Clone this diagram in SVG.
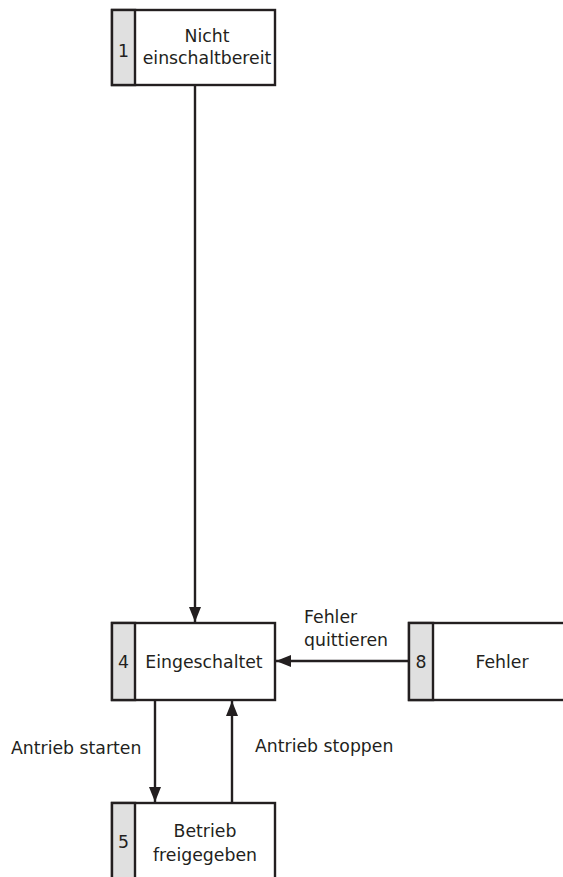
<svg xmlns="http://www.w3.org/2000/svg" width="563" height="877" viewBox="0 0 563 877">
<style>
.box{fill:#fff;stroke:#231f20;stroke-width:2.4}
.num{fill:#e0e0e0;stroke:#231f20;stroke-width:2.4}
.t{font-family:"DejaVu Sans",Verdana,sans-serif;font-size:17.3px;fill:#231f20}
.c{text-anchor:middle}
.ln{stroke:#231f20;stroke-width:2.4;fill:none;marker-end:url(#ah)}
</style>
<defs>
<marker id="ah" markerUnits="userSpaceOnUse" markerWidth="16" markerHeight="16" viewBox="0 0 16 16" refX="15" refY="8" orient="auto">
<path d="M0,2 L15,8 L0,14 Z" fill="#231f20"/>
</marker>
</defs>
<rect width="563" height="877" fill="#fff"/>
<g id="connectors">
<line class="ln" x1="195" y1="86" x2="195" y2="622"/>
<line class="ln" x1="408" y1="661" x2="276" y2="661"/>
<line class="ln" x1="155" y1="701" x2="155" y2="802"/>
<line class="ln" x1="232" y1="802" x2="232" y2="701"/>
<text class="t" x="304" y="623">Fehler</text>
<text class="t" x="304" y="646">quittieren</text>
<text class="t" x="11" y="754">Antrieb starten</text>
<text class="t" x="255" y="752">Antrieb stoppen</text>
</g>
<g id="node1">
<rect class="box" x="112" y="10" width="163" height="75"/>
<rect class="num" x="112" y="10" width="23" height="75"/>
<text class="t c" x="123.5" y="57">1</text>
<text class="t c" x="207" y="42">Nicht</text>
<text class="t c" x="207" y="64">einschaltbereit</text>
</g>
<g id="node4">
<rect class="box" x="112" y="623" width="163" height="77"/>
<rect class="num" x="112" y="623" width="23" height="77"/>
<text class="t c" x="123.5" y="668">4</text>
<text class="t c" x="204" y="668">Eingeschaltet</text>
</g>
<g id="node8">
<rect class="box" x="409" y="623" width="180" height="77"/>
<rect class="num" x="409" y="623" width="24" height="77"/>
<text class="t c" x="421" y="668">8</text>
<text class="t c" x="502" y="668">Fehler</text>
</g>
<g id="node5">
<rect class="box" x="112" y="803" width="163" height="90"/>
<rect class="num" x="112" y="803" width="23" height="90"/>
<text class="t c" x="123.5" y="848">5</text>
<text class="t c" x="205" y="837">Betrieb</text>
<text class="t c" x="205" y="861">freigegeben</text>
</g>
</svg>
